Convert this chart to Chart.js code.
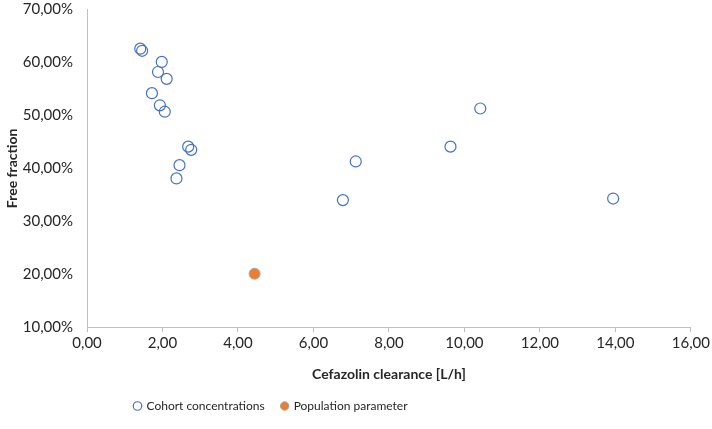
<!DOCTYPE html>
<html>
<head>
<meta charset="utf-8">
<script src="https://cdn.jsdelivr.net/npm/chart.js@4"></script>
<style>
  html, body { margin: 0; padding: 0; background: #fff; }
  #wrap { position: relative; width: 712px; height: 429px; }
</style>
</head>
<body>
<div id="wrap"><canvas id="chart"></canvas></div>
<script>
// cefazolin clearance (L/h) vs free fraction (%)
const cohortClearance = [1.41, 1.46, 1.98, 1.88, 2.11, 1.72, 1.93, 2.06, 2.68, 2.76, 2.45, 2.37, 7.12, 6.78, 10.42, 9.63, 13.94];
const cohortFreeFraction = [62.6, 62.2, 60.1, 58.2, 56.9, 54.2, 51.9, 50.7, 44.1, 43.5, 40.6, 38.1, 41.3, 34.0, 51.3, 44.1, 34.3];
const popClearance = [4.44];
const popFreeFraction = [20.1];

const seriesNames = ['Cohort concentrations', 'Population parameter'];
const xTicks = { min: 0, max: 16, step: 2 };
const yTicks = { min: 10, max: 70, step: 10 };

const toPoints = (xs, ys) => xs.map((x, i) => ({ x: x, y: ys[i] }));
const comma = (v) => v.toFixed(2).replace('.', ',');

const font = "Lato, 'Open Sans', sans-serif";
const axisGrey = '#bfbfbf';
const textColor = '#262626';

// excel puts the legend a bit left of centre, nudge it over
const legendShift = {
  id: 'legendShift',
  afterLayout(chart) {
    chart.legend.right -= 174;
  }
};

const ctx = document.getElementById('chart').getContext('2d');
new Chart(ctx, {
  type: 'scatter',
  data: {
    datasets: [
      {
        label: seriesNames[0],
        data: toPoints(cohortClearance, cohortFreeFraction),
        pointStyle: 'circle',
        pointRadius: 5.5,
        pointBorderWidth: 1.2,
        borderColor: '#4472c4',
        backgroundColor: 'rgba(255,255,255,0)'
      },
      {
        label: seriesNames[1],
        data: toPoints(popClearance, popFreeFraction),
        pointStyle: 'circle',
        pointRadius: 5.5,
        pointBorderWidth: 1,
        borderColor: '#a5a5a5',
        backgroundColor: '#ed7d31'
      }
    ]
  },
  options: {
    responsive: true,
    maintainAspectRatio: false,
    animation: false,
    layout: { padding: { top: 0, right: 0, left: 4, bottom: 7 } },
    plugins: {
      tooltip: { enabled: false },
      legend: {
        position: 'bottom',
        labels: {
          usePointStyle: true,
          boxWidth: 6,
          boxHeight: 6,
          padding: 17,
          color: textColor,
          font: { family: font, size: 12 }
        }
      }
    },
    scales: {
      x: {
        type: 'linear',
        min: xTicks.min,
        max: xTicks.max,
        border: { display: true, color: axisGrey, width: 1 },
        grid: { drawOnChartArea: false, drawTicks: true, tickLength: 5, color: axisGrey },
        ticks: {
          stepSize: xTicks.step,
          color: textColor,
          padding: 2,
          font: { family: font, size: 15 },
          callback: (v) => comma(v)
        },
        title: {
          display: true,
          text: 'Cefazolin clearance [L/h]',
          color: textColor,
          padding: { top: 12, bottom: 0 },
          font: { family: font, size: 14, weight: 'bold' }
        }
      },
      y: {
        type: 'linear',
        min: yTicks.min,
        max: yTicks.max,
        border: { display: true, color: axisGrey, width: 1 },
        // invisible tick marks, only used to keep the labels off the axis
        grid: { drawOnChartArea: false, drawTicks: true, tickLength: 12, color: 'rgba(0,0,0,0)' },
        ticks: {
          stepSize: yTicks.step,
          color: textColor,
          padding: 2,
          font: { family: font, size: 15, lineHeight: 1 },
          callback: (v) => comma(v) + '%'
        },
        title: {
          display: true,
          text: 'Free fraction',
          color: textColor,
          padding: { top: 0, bottom: 0 },
          font: { family: font, size: 14, weight: 'bold' }
        }
      }
    }
  },
  plugins: [legendShift]
});
</script>
</body>
</html>
